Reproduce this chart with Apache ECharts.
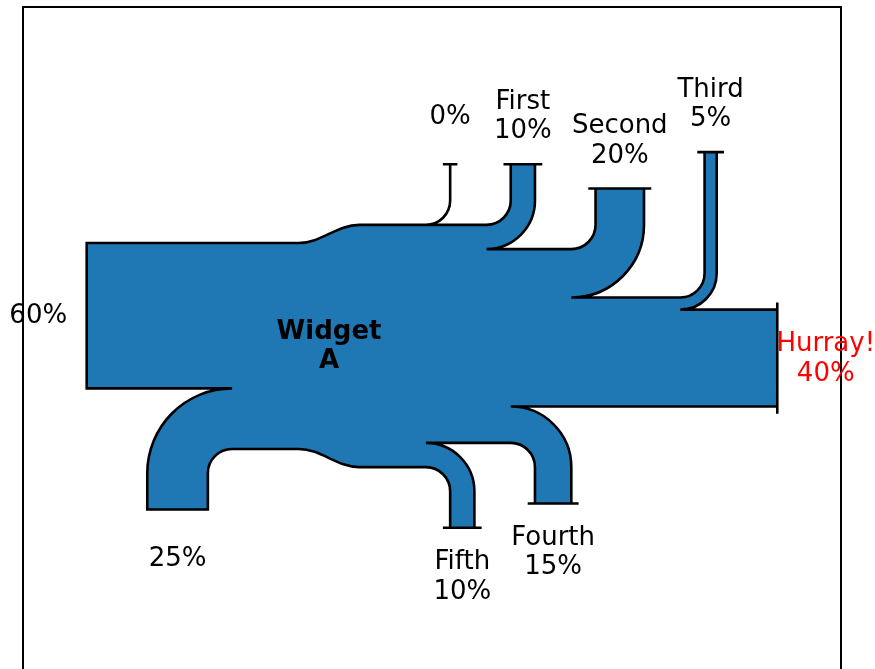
<!DOCTYPE html>
<html>
<head>
<meta charset="utf-8">
<script src="https://cdn.jsdelivr.net/npm/echarts@6/dist/echarts.min.js"></script>
<style>
  html, body { margin: 0; padding: 0; background: #ffffff; }
  #chart { width: 875px; height: 669px; }
</style>
</head>
<body>
<div id="chart"></div>
<script>
// Flows through the widget, in percent: positive = input, negative = output
const flows = [25, 0, 60, -10, -20, -5, -15, -10, -40];
// 1 = top side, 0 = left/right, -1 = bottom side
const orientations = [-1, 1, 0, 1, 1, 1, -1, -1, 0];
const pathLengths = [0.25, 0.25, 0.25, 0.25, 0.25, 0.6, 0.25, 0.25, 0.25];
const flowLabels = ['', '', '', 'First', 'Second', 'Third', 'Fourth', 'Fifth', 'Hurray!'];
const patchLabel = 'Widget\nA';
const unit = '%';

// Sankey layout settings (data units)
const SCALE = 0.01, GAP = 0.25, RADIUS = 0.1, SHOULDER = 0.03, OFFSET = 0.2;
const TRUNK = 1.0, TOL = 1e-6;
const PITCH = Math.tan(Math.PI * (1 - 180 / 180) / 2); // flat arrow heads
const RIGHT = 0, UP = 1, DOWN = 3;

// Cubic Bezier approximation of a quarter circle
const ARC_V = [[1, 0], [1, 0.265114773], [0.894571235, 0.519642327],
  [0.707106781, 0.707106781], [0.519642327, 0.894571235], [0.265114773, 1], [0, 1]];
const ARC_C = ['L', 'C', 'C', 'C', 'C', 'C', 'C'];

function arc(quadrant, cw, radius, cx, cy) {
  let v;
  if (quadrant === 0 || quadrant === 2) {
    v = cw ? ARC_V.map(p => [p[0], p[1]]) : ARC_V.map(p => [p[1], p[0]]);
  } else {
    v = cw ? ARC_V.map(p => [-p[1], p[0]]) : ARC_V.map(p => [-p[0], p[1]]);
  }
  const r = quadrant > 1 ? -radius : radius;
  return v.map((p, i) => [ARC_C[i], r * p[0] + cx, r * p[1] + cy]);
}

function addInput(path, angle, flow, length) {
  if (angle === null) return [[0, 0], [0, 0]];
  let [, x, y] = path[path.length - 1];
  const dipdepth = (flow / 2) * PITCH;
  if (angle === RIGHT) {
    x -= length;
    const dip = [x + dipdepth, y + flow / 2];
    path.push(['L', x, y], ['L', dip[0], dip[1]], ['L', x, y + flow], ['L', x + GAP, y + flow]);
    return [dip, [dip[0] - OFFSET, dip[1]]];
  }
  x -= GAP;
  const sign = angle === UP ? 1 : -1;
  const dip = [x - flow / 2, y - sign * (length - dipdepth)];
  const quadrant = angle === DOWN ? 2 : 1;
  path.push(...arc(quadrant, angle === UP, RADIUS, x + RADIUS, y - sign * RADIUS));
  path.push(['L', x, y - sign * length], ['L', dip[0], dip[1]], ['L', x - flow, y - sign * length]);
  path.push(...arc(quadrant, angle === DOWN, flow + RADIUS, x + RADIUS, y - sign * RADIUS));
  path.push(['L', x - flow, y + sign * flow]);
  return [dip, [dip[0], dip[1] - sign * OFFSET]];
}

function addOutput(path, angle, flow, length) {
  if (angle === null) return [[0, 0], [0, 0]];
  let [, x, y] = path[path.length - 1];
  const tipheight = (SHOULDER - flow / 2) * PITCH;
  if (angle === RIGHT) {
    x += length;
    const tip = [x + tipheight, y + flow / 2];
    path.push(['L', x, y], ['L', x, y + SHOULDER], ['L', tip[0], tip[1]],
      ['L', x, y - SHOULDER + flow], ['L', x, y + flow], ['L', x - GAP, y + flow]);
    return [tip, [tip[0] + OFFSET, tip[1]]];
  }
  x += GAP;
  const sign = angle === UP ? 1 : -1;
  const quadrant = angle === UP ? 3 : 0;
  const tip = [x - flow / 2, y + sign * (length + tipheight)];
  path.push(...arc(quadrant, angle === UP, RADIUS, x - RADIUS, y + sign * RADIUS));
  path.push(['L', x, y + sign * length], ['L', x - SHOULDER, y + sign * length],
    ['L', tip[0], tip[1]], ['L', x + SHOULDER - flow, y + sign * length],
    ['L', x - flow, y + sign * length]);
  path.push(...arc(quadrant, angle === DOWN, RADIUS - flow, x - RADIUS, y + sign * RADIUS));
  path.push(['L', x - flow, y + sign * flow]);
  return [tip, [tip[0], tip[1] + sign * OFFSET]];
}

function revert(path) {
  const out = [];
  let next = 'L';
  for (let i = path.length - 1; i >= 0; i--) {
    out.push([next, path[i][1], path[i][2]]);
    next = path[i][0];
  }
  return out;
}

function layoutSankey() {
  const n = flows.length;
  const sf = flows.map(f => f * SCALE);
  let gain = 0, loss = 0;
  sf.forEach(f => { if (f > 0) gain += f; else loss += f; });
  const isInput = flows.map(f => (f >= TOL ? true : (f <= -TOL ? false : null)));
  const angles = orientations.map((o, i) => {
    const inp = isInput[i];
    if (o === 1) return inp === true ? DOWN : UP;
    if (o === 0) return inp !== null ? RIGHT : null;
    return inp === true ? UP : DOWN;
  });
  const h = GAP - TRUNK / 2;
  const urpath = [['M', h, gain / 2], ['L', h / 2, gain / 2], ['C', h / 8, gain / 2],
    ['C', -h / 8, -loss / 2], ['C', -h / 2, -loss / 2], ['L', -h, -loss / 2]];
  const llpath = [['L', -h, loss / 2], ['L', -h / 2, loss / 2], ['C', -h / 8, loss / 2],
    ['C', h / 8, -gain / 2], ['C', h / 2, -gain / 2], ['L', h, -gain / 2]];
  const lrpath = [['L', -h, loss / 2]];
  const ulpath = [['L', h, gain / 2]];
  const labelLocs = new Array(n).fill(null).map(() => [0, 0]);

  // top side, from the middle outwards
  for (let i = 0; i < n; i++) {
    if (angles[i] === DOWN && isInput[i] === true) {
      labelLocs[i] = addInput(ulpath, angles[i], sf[i], pathLengths[i])[1];
    } else if (angles[i] === UP && isInput[i] !== true) {
      labelLocs[i] = addOutput(urpath, angles[i], sf[i], pathLengths[i])[1];
    }
  }
  // bottom side, from the middle outwards
  for (let i = n - 1; i >= 0; i--) {
    if (angles[i] === UP && isInput[i] === true) {
      labelLocs[i] = addInput(llpath, angles[i], sf[i], pathLengths[i])[1];
    } else if (angles[i] === DOWN && isInput[i] !== true) {
      labelLocs[i] = addOutput(lrpath, angles[i], sf[i], pathLengths[i])[1];
    }
  }
  // left-side inputs from the bottom upwards
  let hasLeft = false;
  for (let i = n - 1; i >= 0; i--) {
    if (angles[i] === RIGHT && isInput[i] === true) {
      if (hasLeft) {
        const [, px, py] = llpath[llpath.length - 1];
        llpath.push(['L', px, py + 0.1]);
      }
      hasLeft = true;
      labelLocs[i] = addInput(llpath, angles[i], sf[i], pathLengths[i])[1];
    }
  }
  // right-side outputs from the top downwards
  let hasRight = false;
  for (let i = 0; i < n; i++) {
    if (angles[i] === RIGHT && isInput[i] !== true) {
      if (hasRight) {
        const [, px, py] = urpath[urpath.length - 1];
        urpath.push(['L', px, py - 0.1]);
      }
      hasRight = true;
      labelLocs[i] = addOutput(urpath, angles[i], sf[i], pathLengths[i])[1];
    }
  }
  if (!hasLeft) { ulpath.pop(); llpath.pop(); }
  if (!hasRight) { lrpath.pop(); urpath.pop(); }

  const outline = urpath.concat(revert(lrpath), llpath, revert(ulpath));
  const texts = flows.map((f, i) => {
    if (angles[i] === null) return '';
    const q = Math.abs(f).toFixed(0) + unit;
    return flowLabels[i] ? flowLabels[i] + '\n' + q : q;
  });
  return { outline, labelLocs, texts };
}

const sankey = layoutSankey();
const labelData = sankey.labelLocs.map(p => [p[0], p[1]]);
labelData.push([0, 0]); // patch label sits at the trunk centre
const labelTexts = sankey.texts.concat([patchLabel]);

const FONT = 'DejaVu Sans';
const chart = echarts.init(document.getElementById('chart'), null, { renderer: 'canvas' });
chart.setOption({
  animation: false,
  backgroundColor: '#ffffff',
  grid: {
    left: 23, top: 7, width: 818, height: 700,
    outerBoundsMode: 'none',
    show: true, borderColor: '#000000', borderWidth: 2, backgroundColor: 'transparent'
  },
  xAxis: { type: 'value', min: -1.2629, max: 2.1130, show: false },
  yAxis: { type: 'value', min: -1.4899, max: 1.3991, show: false },
  series: [
    {
      type: 'custom',
      name: 'Widget',
      silent: true,
      data: [[0, 0]],
      renderItem: function (params, api) {
        const pts = sankey.outline;
        let d = '';
        let i = 0;
        while (i < pts.length) {
          const c = pts[i][0];
          if (i === 0) {
            const p = api.coord([pts[i][1], pts[i][2]]);
            d += 'M' + p[0] + ' ' + p[1];
            i += 1;
          } else if (c === 'C') {
            const a = api.coord([pts[i][1], pts[i][2]]);
            const b = api.coord([pts[i + 1][1], pts[i + 1][2]]);
            const e = api.coord([pts[i + 2][1], pts[i + 2][2]]);
            d += 'C' + a[0] + ' ' + a[1] + ' ' + b[0] + ' ' + b[1] + ' ' + e[0] + ' ' + e[1];
            i += 3;
          } else {
            const p = api.coord([pts[i][1], pts[i][2]]);
            d += 'L' + p[0] + ' ' + p[1];
            i += 1;
          }
        }
        d += 'Z';
        return {
          type: 'path',
          shape: { pathData: d },
          style: { fill: '#1f77b4', stroke: '#000000', lineWidth: 2.6, lineJoin: 'miter' }
        };
      }
    },
    {
      type: 'custom',
      name: 'Labels',
      silent: true,
      data: labelData,
      renderItem: function (params, api) {
        const idx = params.dataIndex;
        const p = api.coord([api.value(0), api.value(1)]);
        const isPatch = idx === labelTexts.length - 1;
        const isHurray = flowLabels[idx] === 'Hurray!';
        return {
          type: 'text',
          x: p[0],
          y: p[1] + 1,
          z2: 10,
          style: {
            text: labelTexts[idx],
            align: 'center',
            verticalAlign: 'middle',
            fontFamily: FONT,
            fontSize: 26,
            lineHeight: 29.5,
            fontWeight: isPatch ? 'bold' : 'normal',
            fill: isHurray ? '#ff0000' : '#000000'
          }
        };
      }
    }
  ]
});
</script>
</body>
</html>
